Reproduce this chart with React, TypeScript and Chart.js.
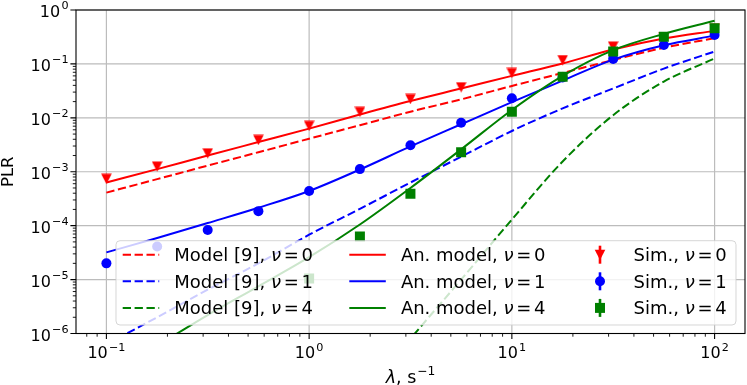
import React, { useEffect, useRef } from 'react';
import { Chart, registerables } from 'chart.js';

Chart.register(...registerables);

// ---------------- data ----------------
const lambdaValues = [0.1, 0.178, 0.316, 0.562, 1, 1.78, 3.16, 5.62, 10, 17.8, 31.6, 56.2, 100];

const model9Nu0 = [4.1e-4, 7.3e-4, 1.3e-3, 2.3e-3, 4.1e-3, 7.3e-3, 0.013, 0.022, 0.039, 0.068, 0.118, 0.2, 0.3];
const model9Nu1 = [6.3e-7, 2.0e-6, 6.5e-6, 2.0e-5, 6.8e-5, 2.05e-4, 6.3e-4, 1.9e-3, 5.7e-3, 0.015, 0.035, 0.082, 0.17];
const model9Nu4 = [null, null, null, null, null, 6e-8, 8e-7, 1.0e-5, 1.3e-4, 1.55e-3, 0.0112, 0.047, 0.126];

const anModelNu0 = [6.3e-4, 1.12e-3, 2.0e-3, 3.55e-3, 6.3e-3, 0.0115, 0.0205, 0.035, 0.06, 0.102, 0.185, 0.295, 0.41];
const anModelNu1 = [3.2e-5, 5.9e-5, 1.12e-4, 2.15e-4, 4.4e-4, 1.1e-3, 2.95e-3, 7.6e-3, 0.0195, 0.049, 0.12, 0.222, 0.335];
const anModelNu4 = [1.8e-7, 6e-7, 2.2e-6, 7.5e-6, 2.6e-5, 1.05e-4, 5e-4, 2.6e-3, 0.014, 0.06, 0.18, 0.36, 0.63];

const simNu0 = [7.4e-4, 1.25e-3, 2.2e-3, 3.9e-3, 7.1e-3, 0.0129, 0.0224, 0.037, 0.068, 0.118, 0.21, 0.315, 0.455];
const simNu1 = [2.0e-5, 4.1e-5, 8.3e-5, 1.86e-4, 4.4e-4, 1.12e-3, 3.1e-3, 8.1e-3, 0.023, 0.056, 0.124, 0.225, 0.345];
const simNu4 = [null, null, null, null, 1.05e-5, 6.3e-5, 3.9e-4, 2.3e-3, 0.013, 0.058, 0.17, 0.32, 0.46];

const seriesLabels = [
  'Model [9], ν = 0', 'Model [9], ν = 1', 'Model [9], ν = 4',
  'An. model, ν = 0', 'An. model, ν = 1', 'An. model, ν = 4',
  'Sim., ν = 0', 'Sim., ν = 1', 'Sim., ν = 4',
];

const xTickExponents = [-1, 0, 1, 2];
const yTickExponents = [-6, -5, -4, -3, -2, -1, 0];
const xMin = 0.0708;
const xMax = 141.25;
const yMin = 1e-6;
const yMax = 1;
const yAxisTitle = 'PLR';

// ---------------- styles ----------------
const RED = '#ff0000';
const BLUE = '#0000ff';
const GREEN = '#008000';
const FONT = '"DejaVu Sans", sans-serif';

type Kind = 'dash' | 'solid' | 'tri' | 'circle' | 'square';

function toPoints(vals: (number | null)[]) {
  return lambdaValues.map((x, i) => ({ x, y: vals[i] }));
}

function makeTriangle(color: string) {
  const c = document.createElement('canvas');
  c.width = 11;
  c.height = 11;
  const g = c.getContext('2d')!;
  g.fillStyle = color;
  g.beginPath();
  g.moveTo(0.2, 0.4);
  g.lineTo(10.8, 0.4);
  g.lineTo(5.5, 10.7);
  g.closePath();
  g.fill();
  return c;
}

function drawPow(ctx: CanvasRenderingContext2D, exp: number, x: number, baseline: number, align: 'center' | 'right', size: number) {
  const baseFont = `${size}px ${FONT}`;
  const supSize = size * 0.7;
  const supFont = `${supSize}px ${FONT}`;
  const expStr = exp < 0 ? '\u2212' + Math.abs(exp) : String(exp);
  ctx.font = baseFont;
  const wb = ctx.measureText('10').width;
  ctx.font = supFont;
  const ws = ctx.measureText(expStr).width;
  const gap = 1.2;
  const total = wb + gap + ws;
  const x0 = align === 'center' ? x - total / 2 : x - total;
  ctx.textAlign = 'left';
  ctx.textBaseline = 'alphabetic';
  ctx.font = baseFont;
  ctx.fillText('10', x0, baseline);
  ctx.font = supFont;
  ctx.fillText(expStr, x0 + wb + gap, baseline - size * 0.475);
}

function drawMathLabel(ctx: CanvasRenderingContext2D, label: string, x: number, baseline: number, size: number) {
  const idx = label.indexOf('ν');
  const normal = `${size}px ${FONT}`;
  const italic = `italic ${size}px ${FONT}`;
  const gap = size * 0.15;
  ctx.textAlign = 'left';
  ctx.textBaseline = 'alphabetic';
  ctx.font = normal;
  const prefix = label.slice(0, idx);
  ctx.fillText(prefix, x, baseline);
  let cx = x + ctx.measureText(prefix).width;
  ctx.font = italic;
  ctx.fillText('ν', cx, baseline);
  cx += ctx.measureText('ν').width + gap;
  ctx.font = normal;
  ctx.fillText('=', cx, baseline);
  cx += ctx.measureText('=').width + gap;
  const val = label.slice(label.indexOf('=') + 1).trim();
  ctx.fillText(val, cx, baseline);
}

function drawMarker(ctx: CanvasRenderingContext2D, kind: Kind, x: number, y: number, color: string) {
  ctx.fillStyle = color;
  ctx.beginPath();
  if (kind === 'tri') {
    ctx.moveTo(x - 5.3, y - 5);
    ctx.lineTo(x + 5.3, y - 5);
    ctx.lineTo(x, y + 5.2);
    ctx.closePath();
  } else if (kind === 'circle') {
    ctx.arc(x, y, 5, 0, Math.PI * 2);
  } else {
    ctx.rect(x - 5, y - 5, 10, 10);
  }
  ctx.fill();
}

const mplPlugin = {
  id: 'mplAxes',
  beforeDatasetsDraw(chart: any) {
    const { ctx, chartArea: a, scales } = chart;
    const xs = scales.x;
    const ys = scales.y;
    ctx.save();
    ctx.strokeStyle = '#bcbcbc';
    ctx.lineWidth = 1.2;
    ctx.beginPath();
    for (const e of xTickExponents) {
      const px = xs.getPixelForValue(Math.pow(10, e));
      ctx.moveTo(px, a.top);
      ctx.lineTo(px, a.bottom);
    }
    for (const e of yTickExponents) {
      const py = ys.getPixelForValue(Math.pow(10, e));
      ctx.moveTo(a.left, py);
      ctx.lineTo(a.right, py);
    }
    ctx.stroke();
    ctx.restore();
  },
  afterDraw(chart: any) {
    const { ctx, chartArea: a, scales } = chart;
    const xs = scales.x;
    const ys = scales.y;
    ctx.save();
    // ticks
    ctx.strokeStyle = '#000';
    ctx.lineWidth = 1.1;
    ctx.beginPath();
    for (const e of xTickExponents) {
      const px = xs.getPixelForValue(Math.pow(10, e));
      ctx.moveTo(px, a.bottom);
      ctx.lineTo(px, a.bottom + 5.6);
    }
    for (const e of yTickExponents) {
      const py = ys.getPixelForValue(Math.pow(10, e));
      ctx.moveTo(a.left, py);
      ctx.lineTo(a.left - 5.6, py);
    }
    ctx.stroke();
    ctx.lineWidth = 0.9;
    ctx.beginPath();
    for (let k = -2; k <= 2; k++) {
      for (let m = 2; m <= 9; m++) {
        const v = m * Math.pow(10, k);
        if (v >= xMin && v <= xMax) {
          const px = xs.getPixelForValue(v);
          ctx.moveTo(px, a.bottom);
          ctx.lineTo(px, a.bottom + 3.2);
        }
        const w = m * Math.pow(10, k - 4);
        if (w >= yMin && w <= yMax) {
          const py = ys.getPixelForValue(w);
          ctx.moveTo(a.left, py);
          ctx.lineTo(a.left - 3.2, py);
        }
      }
    }
    ctx.stroke();
    // spines
    ctx.lineWidth = 1.1;
    ctx.strokeStyle = '#000';
    ctx.strokeRect(a.left, a.top, a.right - a.left, a.bottom - a.top);

    // tick labels
    ctx.fillStyle = '#000';
    for (const e of xTickExponents) {
      drawPow(ctx, e, xs.getPixelForValue(Math.pow(10, e)), a.bottom + 24.8, 'center', 16);
    }
    for (const e of yTickExponents) {
      drawPow(ctx, e, a.left - 7.5, ys.getPixelForValue(Math.pow(10, e)) + 7, 'right', 16);
    }

    // axis titles
    {
      const size = 17.5;
      const it = `italic ${size}px ${FONT}`;
      const nm = `${size}px ${FONT}`;
      const sp = `${size * 0.7}px ${FONT}`;
      ctx.font = it;
      const w1 = ctx.measureText('λ').width;
      ctx.font = nm;
      const w2 = ctx.measureText(', s').width;
      ctx.font = sp;
      const w3 = ctx.measureText('\u22121').width;
      const total = w1 + w2 + w3 + 1;
      let cx = (a.left + a.right) / 2 - total / 2;
      const base = 383;
      ctx.textAlign = 'left';
      ctx.textBaseline = 'alphabetic';
      ctx.font = it;
      ctx.fillText('λ', cx, base);
      cx += w1;
      ctx.font = nm;
      ctx.fillText(', s', cx, base);
      cx += w2 + 1;
      ctx.font = sp;
      ctx.fillText('\u22121', cx, base - size * 0.47);
    }
    ctx.save();
    ctx.translate(13.3, (a.top + a.bottom) / 2);
    ctx.rotate(-Math.PI / 2);
    ctx.font = `16.5px ${FONT}`;
    ctx.textAlign = 'center';
    ctx.textBaseline = 'alphabetic';
    ctx.fillText(yAxisTitle, 0, 0);
    ctx.restore();

    // legend
    const bx0 = a.left + 40;
    const bx1 = a.right - 9;
    const by0 = a.bottom - 92.8;
    const by1 = a.bottom - 8.5;
    ctx.beginPath();
    ctx.roundRect(bx0, by0, bx1 - bx0, by1 - by0, 4);
    ctx.fillStyle = 'rgba(255,255,255,0.8)';
    ctx.fill();
    ctx.strokeStyle = 'rgba(204,204,204,0.8)';
    ctx.lineWidth = 1;
    ctx.stroke();
    const colOffsets = [6.7, 233.3, 466];
    const datasets = chart.data.datasets;
    datasets.forEach((ds: any, i: number) => {
      const col = Math.floor(i / 3);
      const row = i % 3;
      const hx = bx0 + colOffsets[col];
      const hy = by0 + 14 + row * 26.6;
      const kind: Kind = ds.mplKind;
      const color = ds.borderColor;
      ctx.save();
      if (kind === 'dash' || kind === 'solid') {
        ctx.strokeStyle = color;
        ctx.lineWidth = 2;
        ctx.setLineDash(kind === 'dash' ? [8.3, 3.6] : []);
        ctx.beginPath();
        ctx.moveTo(hx, hy);
        ctx.lineTo(hx + 36.5, hy);
        ctx.stroke();
      } else {
        const cx = hx + 18;
        ctx.strokeStyle = color;
        ctx.lineWidth = 2.6;
        ctx.beginPath();
        ctx.moveTo(cx, hy - 9);
        ctx.lineTo(cx, hy + 9);
        ctx.stroke();
        drawMarker(ctx, kind, cx, hy, color);
      }
      ctx.restore();
      ctx.fillStyle = '#000';
      drawMathLabel(ctx, ds.label, hx + 51.6, hy + 6.5, 18);
    });
    ctx.restore();
  },
};

export default function App() {
  const ref = useRef<HTMLCanvasElement>(null);
  useEffect(() => {
    const canvas = ref.current!;
    const triRed = makeTriangle(RED);
    const lineDs = (label: string, vals: (number | null)[], color: string, dashed: boolean) => ({
      label,
      data: toPoints(vals),
      borderColor: color,
      backgroundColor: color,
      borderWidth: 2,
      borderDash: dashed ? [8.3, 3.6] : [],
      pointRadius: 0,
      cubicInterpolationMode: 'monotone',
      fill: false,
      clip: 0,
      mplKind: dashed ? 'dash' : 'solid',
    });
    const simDs = (label: string, vals: (number | null)[], color: string, kind: Kind) => ({
      label,
      data: toPoints(vals),
      borderColor: color,
      backgroundColor: color,
      showLine: false,
      pointStyle: kind === 'tri' ? triRed : kind === 'circle' ? 'circle' : 'rect',
      pointRadius: kind === 'square' ? 7.07 : 5,
      pointBorderWidth: 0,
      borderWidth: 0,
      mplKind: kind,
    });
    const datasets: any[] = [
      lineDs(seriesLabels[0], model9Nu0, RED, true),
      lineDs(seriesLabels[1], model9Nu1, BLUE, true),
      lineDs(seriesLabels[2], model9Nu4, GREEN, true),
      lineDs(seriesLabels[3], anModelNu0, RED, false),
      lineDs(seriesLabels[4], anModelNu1, BLUE, false),
      lineDs(seriesLabels[5], anModelNu4, GREEN, false),
      simDs(seriesLabels[6], simNu0, RED, 'tri'),
      simDs(seriesLabels[7], simNu1, BLUE, 'circle'),
      simDs(seriesLabels[8], simNu4, GREEN, 'square'),
    ];
    datasets.forEach((d, i) => (d.order = datasets.length - i));

    const chart = new Chart(canvas, {
      type: 'line',
      data: { datasets },
      options: {
        responsive: false,
        animation: false,
        events: [],
        layout: { autoPadding: false, padding: { left: 0, top: 10, right: 2, bottom: 0 } },
        plugins: { legend: { display: false }, tooltip: { enabled: false } },
        scales: {
          x: {
            type: 'logarithmic',
            min: xMin,
            max: xMax,
            bounds: 'data',
            ticks: { display: false },
            grid: { display: false },
            border: { display: false },
            afterFit: (s: any) => {
              s.height = 51.5;
            },
          },
          y: {
            type: 'logarithmic',
            min: yMin,
            max: yMax,
            bounds: 'data',
            ticks: { display: false },
            grid: { display: false },
            border: { display: false },
            afterFit: (s: any) => {
              s.width = 76;
            },
          },
        },
      } as any,
      plugins: [mplPlugin as any],
    });
    return () => chart.destroy();
  }, []);
  return (
    <div style={{ position: 'absolute', left: 0, top: 0, width: 747, height: 385, background: '#fff' }}>
      <canvas ref={ref} width={747} height={385} style={{ display: 'block', width: 747, height: 385 }} />
    </div>
  );
}
